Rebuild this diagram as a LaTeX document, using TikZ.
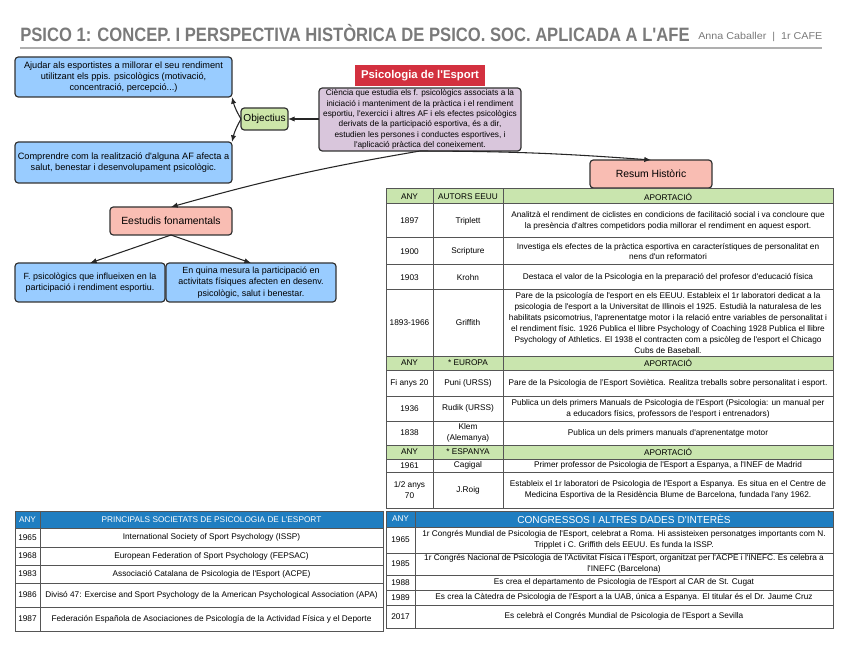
\documentclass[tikz,border=0pt]{standalone}
\usepackage{fontspec}
\setmainfont{Liberation Sans}[Ligatures=TeXOff]
\usetikzlibrary{arrows.meta}
\definecolor{boxblue}{HTML}{99CCFF}
\definecolor{objgreen}{HTML}{CDE6A9}
\definecolor{hgreen}{HTML}{C9E5AE}
\definecolor{salmon}{HTML}{F9BDB3}
\definecolor{titlered}{HTML}{D3303F}
\definecolor{mauve}{HTML}{D9C6DC}
\definecolor{hblue}{HTML}{1F7EC1}
\definecolor{titlegray}{HTML}{7A7A7A}
\definecolor{tgray}{HTML}{555555}
\newcommand{\tcell}[7]{%
  \pgfmathsetmacro\tcw{(#5-#3)*0.75}%
  \pgfmathsetmacro\tch{(#6-#4)*0.75}%
  \node[#1, minimum width=\tcw pt, minimum height=\tch pt] (#2) at ({(#3+#5)/2},{(#4+#6)/2}) {#7};}
\begin{document}
\begin{tikzpicture}[x=0.75pt,y=-0.75pt,
  fbox/.style={draw=black!80, line width=0.9pt, rounded corners=2.5pt, inner sep=0pt, outer sep=0pt, align=center},
  bluebox/.style={fbox, fill=boxblue, font=\fontsize{6.9}{8.4}\selectfont},
  salbox/.style={fbox, fill=salmon, font=\fontsize{7.8}{9}\selectfont},
  cell/.style={draw=tgray, line width=0.75pt, inner sep=0pt, outer sep=0pt, align=center, font=\fontsize{6.2}{8.2}\selectfont},
  hcell/.style={cell, fill=hgreen},
  bcell/.style={cell, fill=hblue, text=white},
  arr/.style={-{Latex[length=5pt,width=4pt]}, line width=0.8pt, draw=black!85}]
\useasboundingbox (0,0) rectangle (848,655);

% title
\node[anchor=base west, inner sep=0pt, text=titlegray, font=\bfseries\fontsize{14.5}{16}\selectfont] (title) at (20,42)
  {\resizebox{502pt}{\height}{PSICO 1: CONCEP. I PERSPECTIVA HISTÒRICA DE PSICO. SOC. APLICADA A L'AFE}};
\node[anchor=base west, inner sep=0pt, text=titlegray, font=\fontsize{7.5}{9}\selectfont] (author) at (698,40)
  {\resizebox{93pt}{\height}{Anna Caballer\ \ |\ \ 1r CAFE}};
\draw[titlegray!60, line width=1.6pt] (20,48) -- (822,48);

% concept map
\tcell{bluebox}{goal1}{15}{57}{232}{97}{Ajudar als esportistes a millorar el seu rendiment\\utilitzant els ppis. psicològics (motivació,\\concentració, percepció...)}
\tcell{bluebox}{goal2}{15}{142}{232}{183}{Comprendre com la realització d'alguna AF afecta a\\salut, benestar i desenvolupament psicològic.}
\tcell{fbox, fill=objgreen, font=\fontsize{7.6}{9}\selectfont}{obj}{241}{108}{288}{130}{Objectius}
\tcell{inner sep=0pt, fill=titlered, text=white, font=\bfseries\fontsize{8.5}{10}\selectfont}{ptitle}{355}{65}{485}{86}{Psicologia de l'Esport}
\tcell{fbox, fill=mauve, font=\fontsize{6.2}{7.8}\selectfont}{cbox}{319}{88}{521}{151}{Ciència que estudia els f. psicològics associats a la\\iniciació i manteniment de la pràctica i el rendiment\\esportiu, l'exercici i altres AF i els efectes psicològics\\derivats de la participació esportiva, és a dir,\\estudien les persones i conductes esportives, i\\l'aplicació pràctica del coneixement.}
\tcell{salbox}{estudis}{110}{207}{232}{235}{Eestudis fonamentals}
\tcell{salbox}{resum}{590}{160}{712}{188}{Resum Històric}
\tcell{bluebox, font=\fontsize{6.7}{8.6}\selectfont}{fp}{15}{263}{165}{302}{F. psicològics que influeixen en la\\participació i rendiment esportiu.}
\tcell{bluebox, font=\fontsize{6.7}{8.6}\selectfont}{eq}{166}{263}{336}{302}{En quina mesura la participació en\\activitats físiques afecten en desenv.\\psicològic, salut i benestar.}

\draw[arr] (cbox.west |- obj.east) -- (obj.east);
\draw[arr] (obj.west) to[bend left=8] (goal1.south east);
\draw[arr] (obj.west) to[bend right=8] (goal2.north east);
\draw[arr] (cbox.south) to[bend right=3] (estudis.north);
\draw[arr] (cbox.south) to[bend left=2] (resum.north);
\draw[arr] (estudis.south) -- (fp.north);
\draw[arr] (estudis.south) -- (eq.north);

% upper right table
\tcell{hcell}{h1a}{386}{189}{433}{204}{ANY}
\tcell{hcell}{h1b}{433}{189}{503}{204}{AUTORS EEUU}
\tcell{hcell}{h1c}{503}{189}{833}{204}{APORTACIÓ}
\tcell{cell}{r1a}{386}{204}{433}{238}{1897}
\tcell{cell}{r1b}{433}{204}{503}{238}{Triplett}
\tcell{cell}{r1c}{503}{204}{833}{238}{Analitzà el rendiment de ciclistes en condicions de facilitació social i va concloure que\\la presència d'altres competidors podia millorar el rendiment en aquest esport.}
\tcell{cell}{r2a}{386}{238}{433}{265}{1900}
\tcell{cell}{r2b}{433}{238}{503}{265}{Scripture}
\tcell{cell}{r2c}{503}{238}{833}{265}{Investiga els efectes de la pràctica esportiva en característiques de personalitat en\\nens d'un reformatori}
\tcell{cell}{r3a}{386}{265}{433}{290}{1903}
\tcell{cell}{r3b}{433}{265}{503}{290}{Krohn}
\tcell{cell}{r3c}{503}{265}{833}{290}{Destaca el valor de la Psicologia en la preparació del profesor d'educació física}
\tcell{cell}{r4a}{386}{290}{433}{356}{1893-1966}
\tcell{cell}{r4b}{433}{290}{503}{356}{Griffith}
\tcell{cell}{r4c}{503}{290}{833}{356}{Pare de la psicología de l'esport en els EEUU. Estableix el 1r laboratori dedicat a la\\psicologia de l'esport a la Universitat de Illinois el 1925. Estudià la naturalesa de les\\habilitats psicomotrius, l'aprenentatge motor i la relació entre variables de personalitat i\\el rendiment físic. 1926 Publica el llibre Psychology of Coaching 1928 Publica el llibre\\Psychology of Athletics. El 1938 el contracten com a psicòleg de l'esport el Chicago\\Cubs de Baseball.}
\tcell{hcell}{h2a}{386}{356}{433}{370}{ANY}
\tcell{hcell}{h2b}{433}{356}{503}{370}{* EUROPA}
\tcell{hcell}{h2c}{503}{356}{833}{370}{APORTACIÓ}
\tcell{cell}{r5a}{386}{370}{433}{396}{Fi anys 20}
\tcell{cell}{r5b}{433}{370}{503}{396}{Puni (URSS)}
\tcell{cell}{r5c}{503}{370}{833}{396}{Pare de la Psicologia de l’Esport Soviètica. Realitza treballs sobre personalitat i esport.}
\tcell{cell}{r6a}{386}{396}{433}{421}{1936}
\tcell{cell}{r6b}{433}{396}{503}{421}{Rudik (URSS)}
\tcell{cell}{r6c}{503}{396}{833}{421}{Publica un dels primers Manuals de Psicologia de l'Esport (Psicologia: un manual per\\a educadors físics, professors de l'esport i entrenadors)}
\tcell{cell}{r7a}{386}{421}{433}{445}{1838}
\tcell{cell}{r7b}{433}{421}{503}{445}{Klem\\(Alemanya)}
\tcell{cell}{r7c}{503}{421}{833}{445}{Publica un dels primers manuals d'aprenentatge motor}
\tcell{hcell}{h3a}{386}{445}{433}{459}{ANY}
\tcell{hcell}{h3b}{433}{445}{503}{459}{* ESPANYA}
\tcell{hcell}{h3c}{503}{445}{833}{459}{APORTACIÓ}
\tcell{cell}{r8a}{386}{459}{433}{472}{1961}
\tcell{cell}{r8b}{433}{459}{503}{472}{Cagigal}
\tcell{cell}{r8c}{503}{459}{833}{472}{Primer professor de Psicologia de l'Esport a Espanya, a l'INEF de Madrid}
\tcell{cell}{r9a}{386}{472}{433}{508}{1/2 anys\\70}
\tcell{cell}{r9b}{433}{472}{503}{508}{J.Roig}
\tcell{cell}{r9c}{503}{472}{833}{508}{Estableix el 1r laboratori de Psicologia de l'Esport a Espanya. Es situa en el Centre de\\Medicina Esportiva de la Residència Blume de Barcelona, fundada l'any 1962.}

% bottom left table
\tcell{bcell}{s0a}{15}{511}{40}{528}{ANY}
\tcell{bcell}{s0b}{40}{511}{383}{528}{PRINCIPALS SOCIETATS DE PSICOLOGIA DE L'ESPORT}
\tcell{cell}{s1a}{15}{528}{40}{547}{1965}
\tcell{cell}{s1b}{40}{528}{383}{547}{International Society of Sport Psychology (ISSP)}
\tcell{cell}{s2a}{15}{547}{40}{565}{1968}
\tcell{cell}{s2b}{40}{547}{383}{565}{European Federation of Sport Psychology (FEPSAC)}
\tcell{cell}{s3a}{15}{565}{40}{583}{1983}
\tcell{cell}{s3b}{40}{565}{383}{583}{Associació Catalana de Psicologia de l'Esport (ACPE)}
\tcell{cell}{s4a}{15}{583}{40}{607}{1986}
\tcell{cell}{s4b}{40}{583}{383}{607}{Divisó 47: Exercise and Sport Psychology de la American Psychological Association (APA)}
\tcell{cell}{s5a}{15}{607}{40}{631}{1987}
\tcell{cell}{s5b}{40}{607}{383}{631}{Federación Española de Asociaciones de Psicología de la Actividad Física y el Deporte}

% bottom right table
\tcell{bcell}{c0a}{386}{511}{415}{527}{ANY}
\tcell{bcell, font=\fontsize{7.6}{9}\selectfont}{c0b}{415}{511}{833}{527}{CONGRESSOS I ALTRES DADES D'INTERÈS}
\tcell{cell}{c1a}{386}{527}{415}{553}{1965}
\tcell{cell}{c1b}{415}{527}{833}{553}{1r Congrés Mundial de Psicologia de l'Esport, celebrat a Roma. Hi assisteixen personatges importants com N.\\Tripplet i C. Griffith dels EEUU. Es funda la ISSP.}
\tcell{cell}{c2a}{386}{553}{415}{575}{1985}
\tcell{cell}{c2b}{415}{553}{833}{575}{1r Congrés Nacional de Psicologia de l'Activitat Física i l'Esport, organitzat per l'ACPE i l'INEFC. Es celebra a\\l'INEFC (Barcelona)}
\tcell{cell}{c3a}{386}{575}{415}{590}{1988}
\tcell{cell}{c3b}{415}{575}{833}{590}{Es crea el departamento de Psicologia de l'Esport al CAR de St. Cugat}
\tcell{cell}{c4a}{386}{590}{415}{605}{1989}
\tcell{cell}{c4b}{415}{590}{833}{605}{Es crea la Càtedra de Psicologia de l'Esport a la UAB, única a Espanya. El titular és el Dr. Jaume Cruz}
\tcell{cell}{c5a}{386}{605}{415}{628}{2017}
\tcell{cell}{c5b}{415}{605}{833}{628}{Es celebrà el Congrés Mundial de Psicologia de l'Esport a Sevilla}
\end{tikzpicture}
\end{document}
